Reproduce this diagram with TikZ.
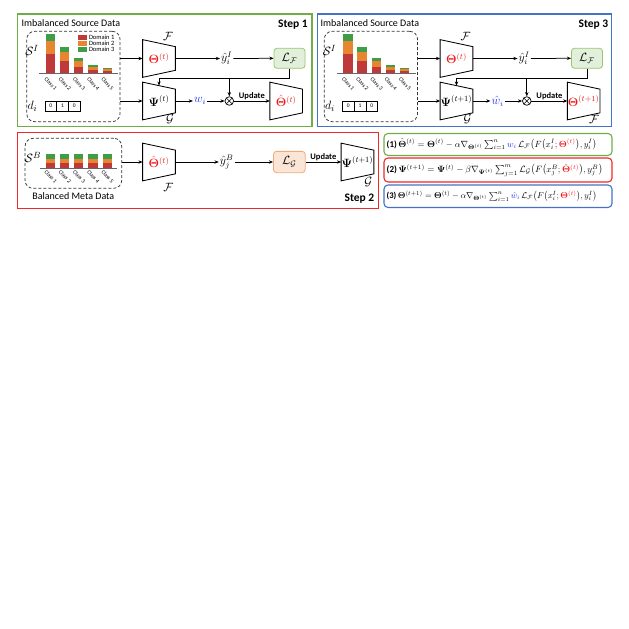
\documentclass[tikz,border=0pt]{standalone}
\usepackage{amsmath,amssymb,bm,graphicx}
\usepackage[no-math]{fontspec}
\setmainfont{Carlito}
\usetikzlibrary{arrows.meta,calc}
\definecolor{gA}{RGB}{112,173,71}
\definecolor{bA}{RGB}{68,114,196}
\definecolor{rA}{RGB}{240,40,40}
\definecolor{barR}{RGB}{192,57,58}
\definecolor{barO}{RGB}{232,133,48}
\definecolor{barG}{RGB}{62,158,72}
\definecolor{wblue}{RGB}{30,50,235}
\definecolor{tred}{RGB}{235,25,25}
\definecolor{lfFill}{RGB}{226,239,218}
\definecolor{lfDraw}{RGB}{150,200,110}
\definecolor{lgFill}{RGB}{251,229,214}
\definecolor{lgDraw}{RGB}{240,170,120}

\newcommand\trapz[3]{%
  \node[trapbox] (#1) at (#2) {#3};
  \draw[trapline] (#1.north west) -- ($(#1.north east)+(0,7)$) -- ($(#1.south east)+(0,-7)$) -- (#1.south west) -- cycle;}

\newcommand\srcpanel[2]{%
  \node[dbox, minimum width=93.3pt, minimum height=90.4pt] (#1ds) at ({#2+73.4},76.5) {};
  \node[lbl, font=\fontsize{12.5}{13}\selectfont] (#1S) at ({#2+32},50.5) {$\mathcal{S}^I$};
  \foreach \k/\yg/\yo/\yr in {0/34.3/41/54.3,1/47.3/51.7/60.7,2/58.3/61/66.7,3/65/66.7/70,4/68.3/69.3/70.7}{%
    \fill[barG] ({#2+45.7+14.2*\k},\yg) rectangle ({#2+55+14.2*\k},\yo);
    \fill[barO] ({#2+45.7+14.2*\k},\yo) rectangle ({#2+55+14.2*\k},\yr);
    \fill[barR] ({#2+45.7+14.2*\k},\yr) rectangle ({#2+55+14.2*\k},73.4);
    \pgfmathtruncatemacro\kk{\k+1}
    \node[cls] (#1c\kk) at ({#2+50.8+14.2*\k},84) {Class \kk};
  }
  \draw[axisln] ({#2+39},73.6) -- ({#2+118},73.6);
  \node[lbl, font=\fontsize{12.5}{13}\selectfont] (#1d) at ({#2+32.5},106) {$d_i$};
  \node[cell] (#1b1) at ({#2+50.8},106) {0};
  \node[cell] (#1b2) at ({#2+62.5},106) {1};
  \node[cell] (#1b3) at ({#2+74.2},106) {0};
}

\begin{document}
\begin{tikzpicture}[x=1pt,y=-1pt,
  arr/.style={-{Stealth[length=4.2pt,width=3.4pt]}, line width=0.75pt},
  trapbox/.style={minimum width=32.3pt, minimum height=37.3pt, inner sep=0pt, font=\fontsize{11.5}{13}\selectfont},
  trapline/.style={line width=0.85pt, line join=miter},
  dbox/.style={draw=black!80, dash pattern=on 3pt off 2pt, line width=0.75pt, rounded corners=8pt, inner sep=0pt},
  lbl/.style={inner sep=1pt, font=\fontsize{12}{13}\selectfont},
  cls/.style={font=\fontsize{5.6}{6}\selectfont, rotate=-48, inner sep=0pt},
  axisln/.style={line width=1pt, black!60},
  cell/.style={draw, line width=0.6pt, minimum width=11.7pt, minimum height=10.3pt, inner sep=0pt, font=\fontsize{5.5}{6}\selectfont},
  lossF/.style={draw=lfDraw, fill=lfFill, line width=0.8pt, rounded corners=3pt, minimum width=31pt, minimum height=20pt, inner sep=0pt, font=\fontsize{11.5}{12}\selectfont},
  lossG/.style={draw=lgDraw, fill=lgFill, line width=0.8pt, rounded corners=3pt, minimum width=31.7pt, minimum height=21.3pt, inner sep=0pt, font=\fontsize{11.5}{12}\selectfont},
  otimes/.style={circle, draw, line width=0.7pt, minimum size=8.6pt, inner sep=0pt,
    path picture={\draw[line width=0.6pt] (path picture bounding box.north west) -- (path picture bounding box.south east) (path picture bounding box.north east) -- (path picture bounding box.south west);}},
  steptxt/.style={font=\bfseries\fontsize{11.5}{13}\selectfont, inner sep=0pt, anchor=east},
  hdr/.style={font=\fontsize{10}{12}\selectfont, anchor=west, inner sep=0pt},
  upd/.style={font=\bfseries\fontsize{8.5}{9}\selectfont, inner sep=1pt, above, midway},
  leg/.style={anchor=west, inner sep=0pt, font=\fontsize{6.5}{7}\selectfont},
  eqbox/.style={line width=1.1pt, rounded corners=4pt},
]
\useasboundingbox (0,0) rectangle (629,629);

% ================= STEP 1 =================
\draw[gA, line width=1.4pt] (17.3,14) rectangle (312,126.5);
\node[hdr] (h1) at (21.5,23.5) {Imbalanced Source Data};
\node[steptxt] (st1) at (308,25) {Step 1};
\srcpanel{s1-}{0}
\fill[barR] (78.3,35.2) rectangle (87.3,39.6);
\fill[barO] (78.3,41.2) rectangle (87.3,45.6);
\fill[barG] (78.3,47.2) rectangle (87.3,51.6);
\node[leg] (lg1) at (88.8,37.4) {Domain 1};
\node[leg] (lg2) at (88.8,43.4) {Domain 2};
\node[leg] (lg3) at (88.8,49.4) {Domain 3};

\trapz{F1}{159,58.5}{$\color{tred}\bm\Theta^{(t)}$}
\trapz{G1}{159,101}{$\bm\Psi^{(t)}$}
\trapz{T1}{286.2,101}{$\color{tred}\hat{\bm\Theta}^{(t)}$}
\node[lbl] (F1l) at (168,36.5) {$\mathcal F$};
\node[lbl] (G1l) at (170,118.5) {$\mathcal G$};
\node[lbl] (y1) at (226.7,58.5) {$\hat y_i^I$};
\node[lossF] (LF1) at (289.5,58.3) {$\mathcal L_{\mathcal F}$};
\node[lbl] (w1) at (200,101) {$\color{wblue}w_i$};
\node[otimes] (o1) at (229.3,101) {};
\coordinate (fb1) at (159,78.3);
\draw[arr] (s1-ds.east |- F1.west) -- (F1.west);
\draw[arr] (s1-ds.east |- G1.west) -- (G1.west);
\draw[arr] (F1.east) -- (y1.west);
\draw[arr] (y1.east) -- (LF1.west);
\draw[arr] (G1.east) -- (w1.west);
\draw[arr] (w1.east) -- (o1.west);
\draw[arr] (o1.east) -- node[upd]{Update} (T1.west);
\draw[arr] (LF1.south) |- (fb1) -- ($(G1.north)+(0,3.5)$);
\draw[arr] (o1 |- fb1) -- (o1.north);

% ================= STEP 3 =================
\draw[bA, line width=1.4pt] (317.3,14) rectangle (611.7,126.5);
\node[hdr] (h3) at (320.5,23.5) {Imbalanced Source Data};
\node[steptxt] (st3) at (608.5,25) {Step 3};
\srcpanel{s3-}{297.5}
\trapz{F3}{456.5,58.5}{$\color{tred}\bm\Theta^{(t)}$}
\trapz{G3}{456.5,101}{$\bm\Psi^{(t+1)}$}
\trapz{T3}{583.7,101}{$\color{tred}\bm\Theta^{(t+1)}$}
\node[lbl] (F3l) at (465.5,36.5) {$\mathcal F$};
\node[lbl] (G3l) at (467.5,118.5) {$\mathcal G$};
\node[lbl] (T3l) at (594,119.5) {$\mathcal F$};
\node[lbl] (y3) at (524.2,58.5) {$\hat y_i^I$};
\node[lossF] (LF3) at (587,58.3) {$\mathcal L_{\mathcal F}$};
\node[lbl] (w3) at (497.5,101) {$\color{wblue}\hat w_i$};
\node[otimes] (o3) at (526.8,101) {};
\coordinate (fb3) at (456.5,78.3);
\draw[arr] (s3-ds.east |- F3.west) -- (F3.west);
\draw[arr] (s3-ds.east |- G3.west) -- (G3.west);
\draw[arr] (F3.east) -- (y3.west);
\draw[arr] (y3.east) -- (LF3.west);
\draw[arr] (G3.east) -- (w3.west);
\draw[arr] (w3.east) -- (o3.west);
\draw[arr] (o3.east) -- node[upd]{Update} (T3.west);
\draw[arr] (LF3.south) |- (fb3) -- ($(G3.north)+(0,3.5)$);
\draw[arr] (o3 |- fb3) -- (o3.north);

% ================= STEP 2 =================
\draw[rA, line width=1.4pt] (17.3,132.3) rectangle (378.3,208.5);
\node[dbox, minimum width=96.7pt, minimum height=50pt] (s2-ds) at (73.4,163.3) {};
\node[lbl, font=\fontsize{12.5}{13}\selectfont] (SB) at (33,157.5) {$\mathcal{S}^B$};
\foreach \k in {0,...,4}{%
  \fill[barG] ({45.7+14.2*\k},154) rectangle ({55+14.2*\k},158.6);
  \fill[barO] ({45.7+14.2*\k},158.6) rectangle ({55+14.2*\k},163.2);
  \fill[barR] ({45.7+14.2*\k},163.2) rectangle ({55+14.2*\k},167.8);
  \pgfmathtruncatemacro\kk{\k+1}
  \node[cls] (s2-c\kk) at ({50.8+14.2*\k},176.5) {Class \kk};
}
\draw[axisln] (40,168) -- (117,168);
\node[hdr, anchor=center] (bmd) at (73.3,196.5) {Balanced Meta Data};
\trapz{F2}{159,162}{$\color{tred}\hat{\bm\Theta}^{(t)}$}
\trapz{P2}{357.5,162}{$\bm\Psi^{(t+1)}$}
\node[lbl] (F2l) at (168.3,187.5) {$\mathcal F$};
\node[lbl] (P2l) at (368.3,181.5) {$\mathcal G$};
\node[lbl] (yB) at (226.7,162) {$\hat y_j^B$};
\node[lossG] (LG) at (289.3,162) {$\mathcal L_{\mathcal G}$};
\node[steptxt] (st2) at (374.5,198.5) {Step 2};
\draw[arr] (s2-ds.east |- F2.west) -- (F2.west);
\draw[arr] (F2.east) -- (yB.west);
\draw[arr] (yB.east) -- (LG.west);
\draw[arr] (LG.east) -- node[upd]{Update} (P2.west);

% ================= EQUATIONS =================
\draw[gA, eqbox] (384,133.5) rectangle (612,155.5);
\draw[rA, eqbox] (384,158) rectangle (612,182);
\draw[bA, eqbox] (384,185) rectangle (612,207.5);
\node[anchor=west, inner sep=0pt] (eq1) at (386.5,144.5) {\resizebox{210pt}{!}{\textbf{(1)}\,$\hat{\bm\Theta}^{(t)}=\bm\Theta^{(t)}-\alpha\nabla_{\bm\Theta^{(t)}}\sum_{i=1}^{n}{\color{wblue}w_i}\,\mathcal{L}_{\mathcal F}\big(F\big(x_i^I;{\color{tred}\bm\Theta^{(t)}}\big),y_i^I\big)$}};
\node[anchor=west, inner sep=0pt] (eq2) at (386.5,170) {\resizebox{216pt}{!}{\textbf{(2)}\,$\bm\Psi^{(t+1)}=\bm\Psi^{(t)}-\beta\nabla_{\bm\Psi^{(t)}}\sum_{j=1}^{m}\mathcal{L}_{\mathcal G}\big(F\big(x_j^B;{\color{tred}\hat{\bm\Theta}^{(t)}}\big),y_j^B\big)$}};
\node[anchor=west, inner sep=0pt] (eq3) at (386.5,196.3) {\resizebox{210pt}{!}{\textbf{(3)}\,$\bm\Theta^{(t+1)}=\bm\Theta^{(t)}-\alpha\nabla_{\bm\Theta^{(t)}}\sum_{i=1}^{n}{\color{wblue}\hat w_i}\,\mathcal{L}_{\mathcal F}\big(F\big(x_i^I;{\color{tred}\bm\Theta^{(t)}}\big),y_i^I\big)$}};
\end{tikzpicture}
\end{document}
